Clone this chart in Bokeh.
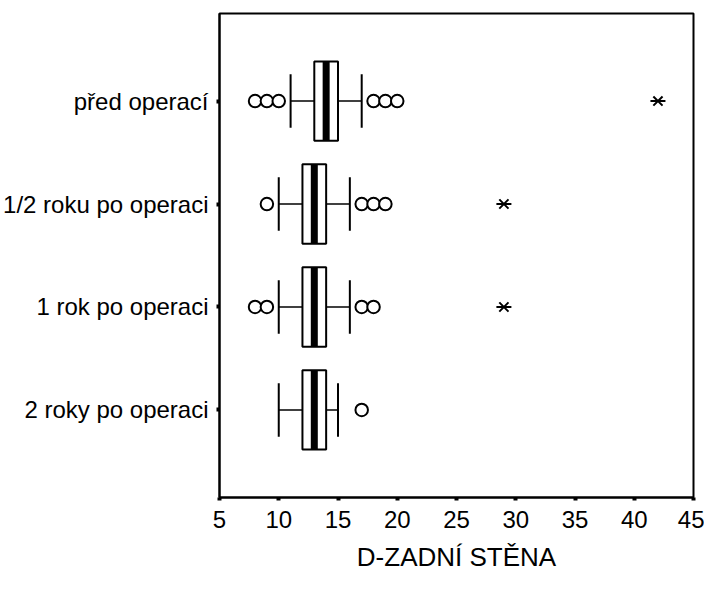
from bokeh.plotting import figure
from bokeh.embed import file_html
from bokeh.resources import INLINE
from bokeh.models import FixedTicker, ColumnDataSource

categories = ["před operací", "1/2 roku po operaci", "1 rok po operaci", "2 roky po operaci"]
q1 = [13, 12, 12, 12]
median = [14, 13, 13, 13]
q3 = [15, 14, 14, 14]
whisker_low = [11, 10, 10, 10]
whisker_high = [17, 16, 16, 15]
outliers = [[8, 9, 10, 18, 19, 20], [9, 17, 18, 19], [8, 9, 17, 18], [17]]
extremes = [[42], [29], [29], []]
x_ticks = [5, 10, 15, 20, 25, 30, 35, 40, 45]
x_label = "D-ZADNÍ STĚNA"

n = len(categories)
ypos = [n - i for i in range(n)]
half_box = 0.385
half_cap = 0.26
FONT = "Liberation Sans"

p = figure(width=704, height=592, output_backend="svg", toolbar_location=None,
           x_range=(5, 45), y_range=(0.15, n + 0.85),
           min_border_left=218, min_border_right=11, min_border_top=13, min_border_bottom=95)
p.background_fill_color = "white"
p.border_fill_color = "white"
p.outline_line_color = "black"
p.outline_line_width = 2
p.xgrid.visible = False
p.ygrid.visible = False

box = ColumnDataSource(dict(
    y=ypos, q1=q1, q3=q3, med=median, lo=whisker_low, hi=whisker_high,
    bot=[y - half_box for y in ypos], top=[y + half_box for y in ypos],
    cb=[y - half_cap for y in ypos], ct=[y + half_cap for y in ypos]))

# whiskers
p.segment(x0="lo", y0="y", x1="q1", y1="y", source=box, line_color="black", line_width=1.5)
p.segment(x0="q3", y0="y", x1="hi", y1="y", source=box, line_color="black", line_width=1.5)
p.segment(x0="lo", y0="cb", x1="lo", y1="ct", source=box, line_color="black", line_width=2)
p.segment(x0="hi", y0="cb", x1="hi", y1="ct", source=box, line_color="black", line_width=2)
# boxes
p.quad(left="q1", right="q3", bottom="bot", top="top", source=box,
       fill_color="white", line_color="black", line_width=2)
# medians
p.segment(x0="med", y0="bot", x1="med", y1="top", source=box, line_color="black", line_width=7)

ox, oy = [], []
for y, vals in zip(ypos, outliers):
    for v in vals:
        ox.append(v)
        oy.append(y)
p.scatter(ox, oy, marker="circle", size=12.5, fill_color="white", line_color="black", line_width=2)

ex, ey = [], []
for y, vals in zip(ypos, extremes):
    for v in vals:
        ex.append(v)
        ey.append(y)
p.scatter(ex, ey, marker="x", size=13, line_color="black", line_width=2)
p.scatter(ex, ey, marker="dash", size=15, line_color="black", line_width=2)

for ax in (p.xaxis, p.yaxis):
    ax.axis_line_color = "black"
    ax.axis_line_width = 2
    ax.major_tick_line_color = "black"
    ax.major_tick_line_width = 4
    ax.major_tick_in = 0
    ax.major_tick_out = 3
    ax.minor_tick_line_color = None
    ax.major_label_text_font = FONT
    ax.major_label_text_font_size = "24px"
    ax.major_label_text_color = "black"

p.xaxis.ticker = FixedTicker(ticks=x_ticks)
p.xaxis.major_label_standoff = 10
p.xaxis.axis_label = x_label
p.xaxis.axis_label_text_font = FONT
p.xaxis.axis_label_text_font_size = "26px"
p.xaxis.axis_label_text_font_style = "normal"
p.xaxis.axis_label_text_color = "black"
p.xaxis.axis_label_standoff = 11

p.yaxis.ticker = FixedTicker(ticks=ypos)
p.yaxis.major_label_overrides = {y: c for y, c in zip(ypos, categories)}
p.yaxis.major_label_standoff = 8

open("out.html", "w").write(file_html(p, INLINE))
